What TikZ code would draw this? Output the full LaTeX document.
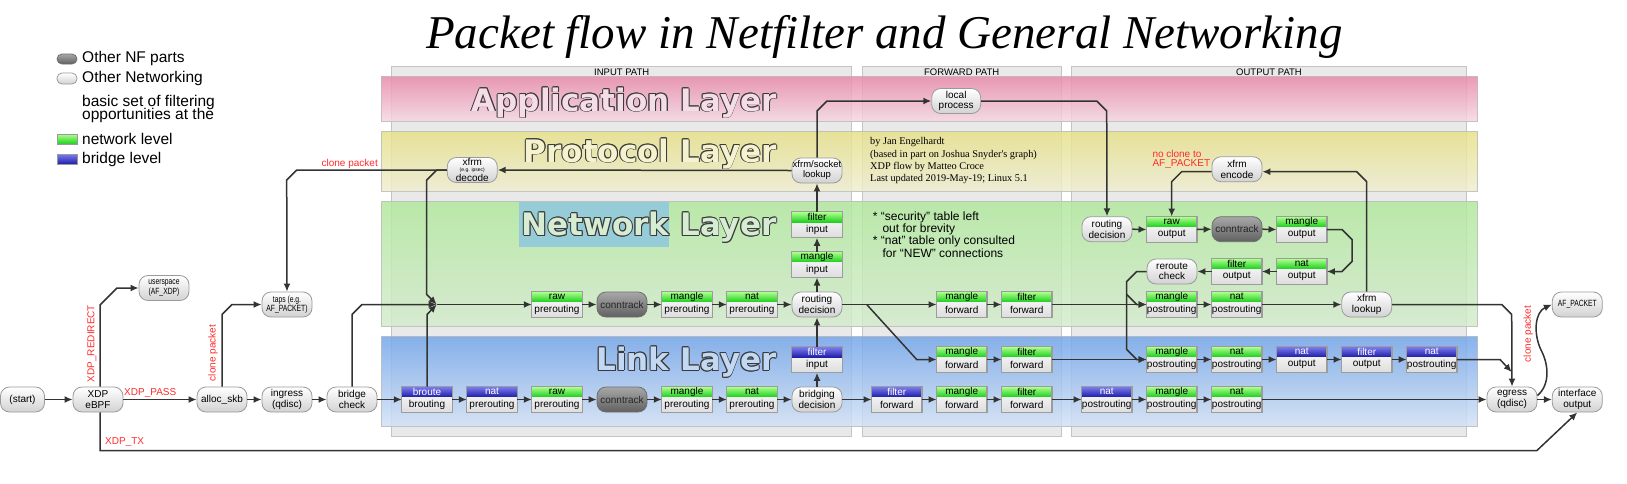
\documentclass[tikz,border=0pt]{standalone}
\usepackage{fontspec}
\setmainfont{Liberation Sans}
\newfontfamily\serifttl{Liberation Serif}
\newfontfamily\layerfam{DejaVu Sans}
\usetikzlibrary{arrows.meta,calc}
\newcommand\fsz[1]{\fontsize{#1}{#1}\selectfont}
\newcommand\cnd[1]{\scalebox{0.75}[1]{#1}}
\definecolor{cline}{HTML}{333333}
\definecolor{rborder}{HTML}{9A9A9A}
\definecolor{rbot}{HTML}{D2D2D2}
\definecolor{nftop}{HTML}{A8A8A8}
\definecolor{nfbot}{HTML}{606060}
\definecolor{nfborder}{HTML}{6E6E6E}
\definecolor{tbot}{HTML}{DDDDDD}
\definecolor{tborder}{HTML}{9C9C9C}
\definecolor{gtop}{HTML}{B0FF90}
\definecolor{gbot}{HTML}{1FD01F}
\definecolor{btop}{HTML}{7C7CF0}
\definecolor{bbot}{HTML}{2020A8}
\definecolor{panelfill}{HTML}{E9E9E9}
\definecolor{paneldraw}{HTML}{C4C4C4}
\definecolor{apptop}{HTML}{E88AAA}
\definecolor{appbot}{HTML}{F5D8E3}
\definecolor{prottop}{HTML}{E6E18A}
\definecolor{protbot}{HTML}{EFEDD2}
\definecolor{nettop}{HTML}{B2E89E}
\definecolor{netbot}{HTML}{D4EBCD}
\definecolor{linktop}{HTML}{74A6EA}
\definecolor{linkbot}{HTML}{D3E2F6}
\definecolor{bandborder}{HTML}{BDBDBD}
\definecolor{tealbg}{HTML}{96CCD8}
\definecolor{louter}{HTML}{3A3A3A}
\definecolor{appfill}{HTML}{F4DDE6}
\definecolor{protfill}{HTML}{F5F3CF}
\definecolor{netfill}{HTML}{D6EDD3}
\definecolor{linkfill}{HTML}{C3D8F2}
\definecolor{redl}{HTML}{FF2A2A}
\newcommand\tb[6]{%
  \node[tbox] (#1) at (#2,#3) {};
  \node[thead#4, anchor=north] (#1h) at (#1.north) {#5};
  \node[tbodyt, anchor=south] (#1b) at (#1.south) {#6};
  \draw[draw=tborder, line width=1.2pt] (#1.south west) rectangle (#1.north east);}
\newcommand\lay[5]{%
  \foreach \a in {0,45,...,315}
    \node[layerf, text=louter, anchor=base east, shift={(\a:0.9)}] at (#2,#3) {#5};
  \node[layerf, text=#4, anchor=base east] (#1) at (#2,#3) {#5};}
\begin{document}
\begin{tikzpicture}[x=1pt,y=-1pt,
  conn/.style={draw=cline, line width=1.5pt, -{Latex[length=8pt,width=7pt]}},
  rbox/.style={rounded corners=9pt, minimum width=50pt, minimum height=25pt, inner sep=0pt,
     draw=rborder, line width=0.8pt, top color=white, bottom color=rbot,
     font=\fontsize{10}{10.5}\selectfont, align=center, text=black},
  nfbox/.style={rbox, top color=nftop, bottom color=nfbot, draw=nfborder, text=black!85},
  tbox/.style={minimum width=50pt, minimum height=25.6pt, inner sep=0pt, top color=white, bottom color=tbot},
  theadg/.style={minimum width=50pt, minimum height=10pt, inner sep=0pt, top color=gtop, bottom color=gbot, font=\fsz{10}, text=black},
  theadb/.style={minimum width=50pt, minimum height=10pt, inner sep=0pt, top color=btop, bottom color=bbot, font=\fsz{10}, text=white},
  tbodyt/.style={minimum width=50pt, minimum height=15.6pt, inner sep=0pt, font=\fsz{10}},
  panel/.style={fill=panelfill, draw=paneldraw, line width=1.5pt},
  band/.style={draw=bandborder, line width=1.2pt, opacity=0.85},
  layerf/.style={font=\layerfam\bfseries\fontsize{31}{31}\selectfont, inner sep=0pt},
  redlab/.style={font=\fsz{10}, text=redl, inner sep=0pt},
  leg/.style={font=\fsz{15.5}, inner sep=0pt, anchor=west},
  colab/.style={font=\fsz{9.5}, inner sep=0pt},
  note/.style={font=\fsz{12}, inner sep=0pt, anchor=west},
  auth/.style={font=\serifttl\fsz{10.3}, inner sep=0pt, anchor=west}]
\useasboundingbox (0,0) rectangle (1627,483);

% title
\node[font=\serifttl\itshape\fsz{47}, anchor=base west, inner sep=0pt] (title) at (426,48.5) {Packet flow in Netfilter and General Networking};

% legend
\node[nfbox, minimum width=20pt, minimum height=10pt, rounded corners=5pt] (lg1) at (67,59) {};
\node[rbox, minimum width=20pt, minimum height=11pt, rounded corners=5pt] (lg2) at (67,78.5) {};
\node[theadg, minimum width=20pt, draw=rborder, line width=0.8pt] (lg3) at (67,139) {};
\node[theadb, minimum width=20pt, draw=rborder, line width=0.8pt] (lg4) at (67,159) {};
\node[leg] (lt1) at (82,58) {Other NF parts};
\node[leg] (lt2) at (82,78) {Other Networking};
\node[leg] (lt3) at (82,102.5) {basic set of filtering};
\node[leg] (lt4) at (82,115.5) {opportunities at the};
\node[leg] (lt5) at (82,139) {network level};
\node[leg] (lt6) at (82,159) {bridge level};

% panels
\filldraw[panel] (391.7,66.7) rectangle (851.7,436.7);
\filldraw[panel] (862.3,66.7) rectangle (1061.7,436.7);
\filldraw[panel] (1071.7,66.7) rectangle (1466.7,436.7);
\node[colab] (cl1) at (621.7,72.3) {INPUT PATH};
\node[colab] (cl2) at (961.7,72.3) {FORWARD PATH};
\node[colab] (cl3) at (1269,72.3) {OUTPUT PATH};

% bands
\shade[band, top color=apptop, bottom color=appbot] (381.7,76.7) rectangle (1477.3,121.7);
\shade[band, top color=prottop, bottom color=protbot] (381.7,131.7) rectangle (1477.3,191.7);
\shade[band, top color=nettop, bottom color=netbot] (381.7,201.7) rectangle (1477.3,326.7);
\shade[band, top color=linktop, bottom color=linkbot] (381.7,336.7) rectangle (1477.3,426.7);
\fill[tealbg] (519,201.7) rectangle (669,246.7);

\lay{tapp}{776.7}{111}{appfill}{Application Layer}
\lay{tprot}{776.7}{162}{protfill}{Protocol Layer}
\lay{tnet}{776.7}{235.5}{netfill}{Network Layer}
\lay{tlink}{776.7}{370.5}{linkfill}{Link Layer}

% author + notes
\node[auth] (a1) at (870,142.3) {by Jan Engelhardt};
\node[auth] (a2) at (870,155) {(based in part on Joshua Snyder's graph)};
\node[auth] (a3) at (870,167.3) {XDP flow by Matteo Croce};
\node[auth] (a4) at (870,179.3) {Last updated 2019-May-19; Linux 5.1};
\node[note] (n1) at (872.7,217.3) {* “security” table left};
\node[note] (n2) at (882.3,229.5) {out for brevity};
\node[note] (n3) at (872.7,241.7) {* “nat” table only consulted};
\node[note] (n4) at (882.3,253) {for “NEW” connections};

% left chain
\node[rbox, minimum width=44pt] (start) at (22.5,399.5) {(start)};
\node[rbox] (xdp) at (98,399.5) {XDP\\eBPF};
\node[rbox] (alloc) at (222,399.5) {alloc\_skb};
\node[rbox] (ingr) at (287,399.5) {ingress\\(qdisc)};
\node[rbox] (brc) at (352,399.5) {bridge\\check};
\node[rbox, font=\fontsize{9}{9.5}\selectfont] (usr) at (164,288) {\cnd{userspace}\\\cnd{(AF\_XDP)}};
\node[rbox, font=\fontsize{9}{9.5}\selectfont] (taps) at (287,304.5) {\cnd{taps (e.g.}\\\cnd{AF\_PACKET)}};

% xfrm decode
\node[rbox] (xd) at (472.3,170) {};
\node[font=\fsz{10}, inner sep=0pt] (xd1) at (472.3,162) {xfrm};
\node[font=\fsz{5}, inner sep=0pt] (xd2) at (472.3,170.5) {(e.g. ipsec)};
\node[font=\fsz{10}, inner sep=0pt] (xd3) at (472.3,177.5) {decode};

% link row (input)
\tb{br}{427}{399.5}{b}{broute}{brouting}
\tb{lnat}{492}{399.5}{b}{nat}{prerouting}
\tb{lraw}{557}{399.5}{g}{raw}{prerouting}
\node[nfbox] (lct) at (622,399.5) {conntrack};
\tb{lmang}{687}{399.5}{g}{mangle}{prerouting}
\tb{lnatp}{752}{399.5}{g}{nat}{prerouting}
\node[rbox] (bd) at (817,399.5) {bridging\\decision};
\tb{bfi}{817}{359.8}{b}{filter}{input}

% network row (input)
\coordinate (M) at (436.7,304.5);
\tb{nraw}{557}{304.5}{g}{raw}{prerouting}
\node[nfbox] (nct) at (622,304.5) {conntrack};
\tb{nmang}{687}{304.5}{g}{mangle}{prerouting}
\tb{nnat}{752}{304.5}{g}{nat}{prerouting}
\node[rbox] (rd) at (817,304.5) {routing\\decision};
\tb{mi}{817}{264.5}{g}{mangle}{input}
\tb{fi}{817}{224.8}{g}{filter}{input}
\node[rbox, font=\fontsize{9.5}{10}\selectfont] (xsl) at (817,170.5) {xfrm/socket\\lookup};
\node[rbox, minimum width=49pt] (lp) at (956.2,101) {local\\process};

% forward
\tb{fmn}{961.7}{304.5}{g}{mangle}{forward}
\tb{ffn}{1026.7}{304.5}{g}{filter}{forward}
\tb{fm2}{961.7}{359.5}{g}{mangle}{forward}
\tb{ff2}{1026.7}{359.5}{g}{filter}{forward}
\tb{ffb}{896.7}{399.5}{b}{filter}{forward}
\tb{fml}{961.7}{399.5}{g}{mangle}{forward}
\tb{ffl}{1026.7}{399.5}{g}{filter}{forward}

% output
\node[rbox] (rdo) at (1107,229.2) {routing\\decision};
\tb{rawo}{1171.7}{229.5}{g}{raw}{output}
\node[nfbox] (cto) at (1237,229.2) {conntrack};
\tb{mo}{1301.7}{229.5}{g}{mangle}{output}
\tb{no}{1301.7}{271.5}{g}{nat}{output}
\tb{fo}{1236.7}{271.5}{g}{filter}{output}
\node[rbox] (rc) at (1172,271.5) {reroute\\check};
\node[rbox] (xe) at (1237,169.2) {xfrm\\encode};
\tb{mpn}{1171.7}{304.5}{g}{mangle}{postrouting}
\tb{npn}{1236.7}{304.5}{g}{nat}{postrouting}
\node[rbox] (xl) at (1366.7,304.5) {xfrm\\lookup};
\tb{mp2}{1171.7}{359.5}{g}{mangle}{postrouting}
\tb{np2}{1236.7}{359.5}{g}{nat}{postrouting}
\tb{nob}{1301.7}{359.5}{b}{nat}{output}
\tb{fob}{1366.7}{359.5}{b}{filter}{output}
\tb{npb}{1431.7}{359.5}{b}{nat}{postrouting}
\tb{npl}{1106.7}{399.5}{b}{nat}{postrouting}
\tb{mpl}{1171.7}{399.5}{g}{mangle}{postrouting}
\tb{npl2}{1236.7}{399.5}{g}{nat}{postrouting}
\node[rbox] (eg) at (1512,399.5) {egress\\(qdisc)};
\node[rbox] (io) at (1577.3,399.5) {interface\\output};
\node[rbox, font=\fsz{9}] (afp) at (1577.3,304.5) {\cnd{AF\_PACKET}};

% labels
\node[redlab, anchor=west] (lpass) at (124,393) {XDP\_PASS};
\node[redlab, rotate=90] (lredir) at (92,343.5) {XDP\_REDIRECT};
\node[redlab, anchor=west] (ltx) at (105,442) {XDP\_TX};
\node[redlab, rotate=90] (lcl1) at (213,353) {clone packet};
\node[redlab, anchor=east] (lcl2) at (378,164) {clone packet};
\node[redlab, rotate=90] (lcl3) at (1528.3,334) {clone packet};
\node[redlab, anchor=west] (lnc1) at (1152.3,154.3) {no clone to};
\node[redlab, anchor=west] (lnc2) at (1152.3,163.5) {AF\_PACKET};

% connectors: straight chains
\foreach \p/\q in {start/xdp, xdp/alloc, alloc/ingr, ingr/brc, brc/br, br/lnat, lnat/lraw, lraw/lct, lct/lmang, lmang/lnatp, lnatp/bd, bd/ffb, ffb/fml, fml/ffl, ffl/npl, npl/mpl, mpl/npl2, npl2/eg, eg/io,
  nraw/nct, nct/nmang, nmang/nnat, nnat/rd, rd/fmn, fmn/ffn, ffn/mpn, mpn/npn, npn/xl,
  fm2/ff2, ff2/mp2, mp2/np2, np2/nob, nob/fob, fob/npb,
  rdo/rawo, rawo/cto, cto/mo}
  \draw[conn] (\p.east) -- (\q.west);
\foreach \p/\q in {no/fo, fo/rc, xsl/xd}
  \draw[conn] (\p.west) -- (\q.east);
\foreach \p/\q in {bd/bfi, bfi/rd, rd/mi, mi/fi, fi/xsl}
  \draw[conn] (\p.north) -- (\q.south);
\draw[conn] (M) -- (nraw.west);

% connectors: bent
\draw[conn] ([xshift=2pt]xdp.north) -- (100,305) -- (117,288) -- (usr.west);
\draw[conn] ([xshift=2pt]xdp.south) -- (100,450.7) -- (1536.7,450.7) -- (io.south);
\draw[conn] (alloc.north) -- (222,314.5) -- (232,304.5) -- (taps.west);
\draw[conn] (brc.north) -- (352,314.5) -- (362,304.5) -- (M);
\draw[conn] (br.north) -- (427,314.5) -- (M);
\draw[conn] (xd.west) -- (436.7,170) -- (426.7,180) -- (426.7,294.5) -- (M);
\draw[conn] (xd.west) -- (296.7,170) -- (286.7,180) -- (taps.north);
\draw[conn] (xsl.north) -- (817,111) -- (827,101) -- (lp.west);
\draw[conn] (lp.east) -- (1096.7,101) -- (1106.7,111) -- (rdo.north);
\coordinate (fb) at (866.7,304.5);
\draw[conn] (fb) -- (916.7,359.5) -- (fm2.west);
\draw[conn] (mo.east) -- (1342,229.5) -- (1352,239.5) -- (1352,261.5) -- (1342,271.5) -- (no.east);
\draw[conn] (rc.west) -- (1136.7,271.5) -- (1126.7,281.5) -- (1126.7,349.5) -- (1136.7,359.5) -- (mp2.west);
\coordinate (rb) at (1126.7,294.5);
\draw[conn] (rb) -- (1136.7,304.5) -- (mpn.west);
\draw[conn] (xl.north) -- (1366.7,181.7) -- (1356.7,171.7) -- ([yshift=-2.5pt]xe.east);
\draw[conn] ([yshift=-2.5pt]xe.west) -- (1181.7,171.7) -- (1171.7,181.7) -- (rawo.north);
\draw[conn] (xl.east) -- (1501.7,304.5) -- (1511.7,314.5) -- (eg.north);
\coordinate (egin) at (1511.7,372);
\draw[conn] (npb.east) -- (1500,359.5) -- (egin);
\draw[conn] ([yshift=4pt]eg.east) .. controls (1550,385) and (1549,365) .. (1541,350) .. controls (1533,333) and (1535,312) .. (afp.west);
\end{tikzpicture}
\end{document}
